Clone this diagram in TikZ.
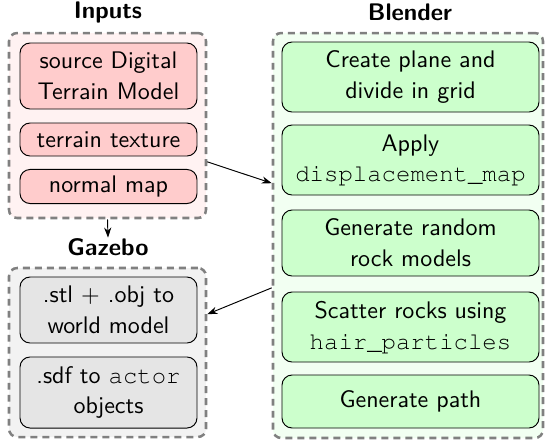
\documentclass[tikz,border=0pt]{standalone}
\usepackage{fontspec}
\usetikzlibrary{arrows.meta}
\definecolor{grpgray}{RGB}{128,128,128}
\newcommand{\cour}[1]{{\fontencoding{T1}\fontfamily{pcr}\selectfont #1}}
\begin{document}
\begin{tikzpicture}[x=0.416667pt,y=-0.416667pt,
  grp/.style={draw=grpgray, line width=1.05pt, dash pattern=on 2.9pt off 2.1pt, rounded corners=3.4pt, inner sep=0pt},
  box/.style={draw=black, line width=0.4pt, rounded corners=4.2pt, align=center, inner sep=0pt,
    font=\sffamily\fontsize{10}{12.9}\selectfont},
  ttl/.style={font=\sffamily\bfseries\fontsize{10}{12}\selectfont, anchor=base, inner sep=0pt},
  arr/.style={-{Stealth[length=4.2pt,width=3pt]}, line width=0.4pt}]
\useasboundingbox (0,0) rectangle (547,441);
% group boxes
\node[grp, fill=red!5, minimum width=82.08pt, minimum height=77.08pt] (inputs) at (107.5,125.5) {};
\node[grp, fill=gray!10, minimum width=82.08pt, minimum height=70.42pt] (gazebo) at (107.5,352.5) {};
\node[grp, fill=green!5, minimum width=112.5pt, minimum height=168.75pt] (blender) at (408,235.5) {};
% titles
\node[ttl] (tin) at (108,18) {Inputs};
\node[ttl] (tbl) at (410,20.5) {Blender};
\node[ttl] (tgz) at (108,255) {Gazebo};
% inputs
\node[box, fill=red!20, minimum width=73.75pt, minimum height=27.5pt] (in1) at (108.5,76) {source Digital\\Terrain Model};
\node[box, fill=red!20, minimum width=73.75pt, minimum height=13.75pt] (in2) at (108.5,139.5) {terrain texture};
\node[box, fill=red!20, minimum width=73.75pt, minimum height=14.2pt] (in3) at (108.5,186.5) {normal map};
% gazebo
\node[box, fill=gray!20, minimum width=73.75pt, minimum height=27.5pt] (g1) at (108.5,310) {.stl $+$ .obj to\\world model};
\node[box, fill=gray!20, minimum width=73.75pt, minimum height=29.6pt] (g2) at (108.5,392.5) {.sdf to \cour{actor}\\objects};
% blender
\node[box, fill=green!20, minimum width=107.08pt, minimum height=29.17pt] (b1) at (410.5,77) {Create plane and\\divide in grid};
\node[box, fill=green!20, minimum width=107.08pt, minimum height=29.17pt] (b2) at (410.5,160) {Apply\\\cour{displacement\_map}};
\node[box, fill=green!20, minimum width=107.08pt, minimum height=27.5pt] (b3) at (410.5,243) {Generate random\\rock models};
\node[box, fill=green!20, minimum width=107.08pt, minimum height=29.17pt] (b4) at (410.5,327) {Scatter rocks using\\\cour{hair\_particles}};
\node[box, fill=green!20, minimum width=107.08pt, minimum height=22.08pt] (b5) at (410.5,401.5) {Generate path};
% connectors
\draw[arr] (inputs.-20.3) -- (blender.159.1);
\draw[arr] (blender.201.3) -- (gazebo.21.8);
\draw[arr] (inputs.south) -- (tgz.north);
\end{tikzpicture}
\end{document}
